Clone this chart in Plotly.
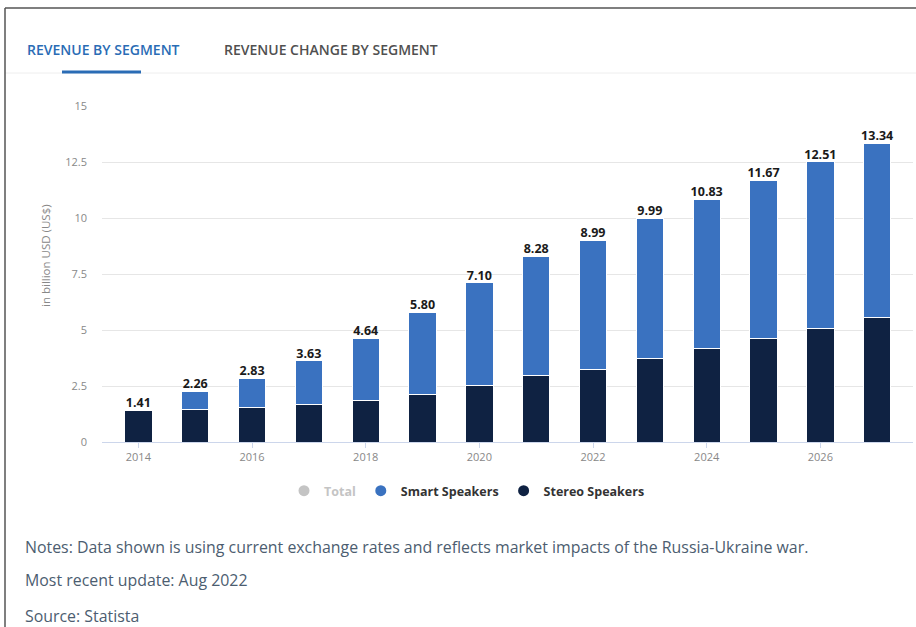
import plotly.graph_objects as go

years = [2014, 2015, 2016, 2017, 2018, 2019, 2020, 2021, 2022, 2023, 2024, 2025, 2026, 2027]
totals = [1.41, 2.26, 2.83, 3.63, 4.64, 5.80, 7.10, 8.28, 8.99, 9.99, 10.83, 11.67, 12.51, 13.34]
stereo = [1.41, 1.47, 1.56, 1.68, 1.84, 2.10, 2.53, 2.96, 3.23, 3.75, 4.17, 4.64, 5.08, 5.55]
smart = [round(t - s, 2) for t, s in zip(totals, stereo)]
x_tick_years = [2014, 2016, 2018, 2020, 2022, 2024, 2026]
y_ticks = [0, 2.5, 5, 7.5, 10, 12.5, 15]
y_tick_text = ["0", "2.5", "5", "7.5", "10", "12.5", "15"]

SMART = "#3a72c0"
STEREO = "#0f2242"
FONT = "Open Sans"

# plot area pixels: left 102, right 913, top 106, bottom 442
L, R, T, B = 102, 913, 106, 442
W, H = 916, 627
def px(x):
    return (x - L) / (R - L)
def py(y):
    return (B - y) / (B - T)

fig = go.Figure()
fig.add_trace(go.Bar(x=years, y=stereo, marker=dict(color=STEREO, line=dict(color="white", width=1)),
                     width=0.48, showlegend=False, hoverinfo="skip"))
fig.add_trace(go.Bar(x=years, y=smart, marker=dict(color=SMART, line=dict(color="white", width=1)),
                     width=0.48, showlegend=False, hoverinfo="skip"))
fig.add_trace(go.Scatter(x=years, y=totals, mode="text", text=[f"{v:.2f}" for v in totals],
                         textposition="top center",
                         textfont=dict(family=FONT, size=12.5, color="#1a1a1a", weight="bold"),
                         showlegend=False, hoverinfo="skip"))
# legend entries
fig.add_trace(go.Scatter(x=[None], y=[None], mode="markers", name="<span style='color:#c4c4c4'>Total</span>",
                         marker=dict(color="#c4c4c4", size=11, symbol="circle")))
fig.add_trace(go.Scatter(x=[None], y=[None], mode="markers", name="Smart Speakers",
                         marker=dict(color=SMART, size=11, symbol="circle")))
fig.add_trace(go.Scatter(x=[None], y=[None], mode="markers", name="Stereo Speakers",
                         marker=dict(color=STEREO, size=11, symbol="circle")))

fig.update_layout(
    width=W, height=H, barmode="stack",
    margin=dict(l=L, r=W - R, t=T, b=H - B, pad=0),
    paper_bgcolor="white", plot_bgcolor="white",
    font=dict(family=FONT, size=11, color="#888888"),
    showlegend=True,
    legend=dict(orientation="h", x=px(467), xanchor="center", y=py(491), yanchor="middle",
                traceorder="normal",
                font=dict(family=FONT, size=12.5, color="#333333", weight="bold"),
                itemwidth=30, tracegroupgap=0, bgcolor="rgba(0,0,0,0)"),
    xaxis=dict(range=[2014 - 0.64, 2027 + 0.63], tickmode="array", tickvals=x_tick_years,
               showgrid=False, showline=True, linecolor="#ccd6eb", linewidth=1,
               ticks="outside", ticklen=5, tickcolor="#ccd6eb",
               tickfont=dict(family=FONT, size=11, color="#888888"), zeroline=False, fixedrange=True),
    yaxis=dict(range=[0, 15], tickmode="array", tickvals=y_ticks, ticktext=y_tick_text,
               showgrid=True, gridcolor="#e6e6e6", gridwidth=1, zeroline=False,
               ticklabelstandoff=14,
               tickfont=dict(family=FONT, size=11, color="#888888"), fixedrange=True),
)

annotations = [
    dict(text="in billion USD (US$)", x=px(45), y=py(256), textangle=-90,
         font=dict(family=FONT, size=11.5, color="#888888")),
    dict(text="REVENUE BY SEGMENT", x=px(25), y=py(50), xanchor="left",
         font=dict(family=FONT, size=14, color="#2a6cb5", weight=600)),
    dict(text="REVENUE CHANGE BY SEGMENT", x=px(222), y=py(50), xanchor="left",
         font=dict(family=FONT, size=14, color="#505050", weight=600)),
    dict(text="Notes: Data shown is using current exchange rates and reflects market impacts of the Russia-Ukraine war.",
         x=px(23), y=py(547), xanchor="left", font=dict(family=FONT, size=15.9, color="#4c5d70")),
    dict(text="Most recent update: Aug 2022", x=px(23), y=py(580), xanchor="left",
         font=dict(family=FONT, size=15.9, color="#4c5d70")),
    dict(text="Source: Statista", x=px(23), y=py(616), xanchor="left",
         font=dict(family=FONT, size=15.9, color="#4c5d70")),
]
for a in annotations:
    a.update(xref="paper", yref="paper", yanchor="middle", showarrow=False)
    a.setdefault("xanchor", "center")
fig.update_layout(annotations=annotations)

shapes = [
    # separator under tabs
    dict(type="line", x0=px(5), x1=px(916), y0=py(73), y1=py(73), line=dict(color="#eeeeee", width=1)),
    # active tab underline
    dict(type="line", x0=px(62), x1=px(141), y0=py(72), y1=py(72), line=dict(color="#2a6cb5", width=3)),
    # frame
    dict(type="line", x0=px(5), x1=px(916), y0=py(8), y1=py(8), line=dict(color="#555555", width=1.5)),
    dict(type="line", x0=px(5), x1=px(5), y0=py(8), y1=py(627), line=dict(color="#555555", width=1.5)),
]
for s in shapes:
    s.update(xref="paper", yref="paper")
fig.update_layout(shapes=shapes)

fig.write_html("out.html", config={"displayModeBar": False},
               post_script="document.body.style.margin='0';document.body.style.overflow='hidden';")
